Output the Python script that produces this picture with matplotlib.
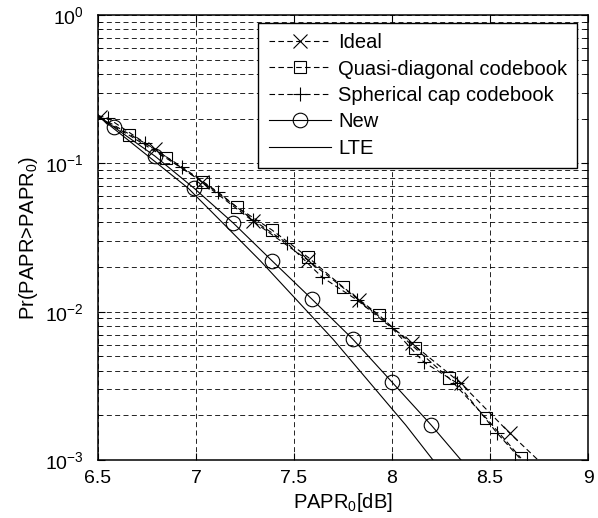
import matplotlib
matplotlib.use('Agg')
import matplotlib.pyplot as plt
import numpy as np
from matplotlib.ticker import LogLocator, FixedLocator, NullFormatter

plt.rcParams['font.family'] = ['Liberation Sans', 'DejaVu Sans']
plt.rcParams['mathtext.fontset'] = 'custom'
plt.rcParams['mathtext.rm'] = 'Liberation Sans'
plt.rcParams['mathtext.it'] = 'Liberation Sans'

# Ideal (x markers, dashed)
ideal_x = [6.51, 6.79, 7.03, 7.29, 7.57, 7.83, 8.10, 8.35, 8.60, 8.745]
ideal_y = [0.205, 0.125, 0.0748, 0.0408, 0.0223, 0.0120, 0.00614, 0.00330, 0.00152, 0.001]
ideal_marks = list(range(9))

# Quasi-diagonal codebook (squares, dashed)
quasi_x = [6.5, 6.658, 6.847, 7.036, 7.209, 7.388, 7.571, 7.750, 7.934, 8.117, 8.291, 8.480, 8.658]
quasi_y = [0.205, 0.155, 0.1086, 0.0748, 0.0507, 0.0355, 0.0233, 0.01466, 0.00948, 0.00569, 0.00356, 0.00192, 0.00103]
quasi_marks = list(range(1, 13))

# Spherical cap codebook (+ markers, dashed)
sph_x = [6.5, 6.55, 6.74, 6.929, 7.112, 7.291, 7.464, 7.643, 7.821, 8.000, 8.163, 8.332, 8.536, 8.66]
sph_y = [0.21, 0.202, 0.137, 0.0944, 0.0640, 0.0415, 0.0290, 0.0171, 0.0120, 0.00775, 0.00457, 0.00330, 0.00152, 0.001]
sph_marks = list(range(1, 13))

# New (circles, solid)
new_x = [6.5, 6.58, 6.79, 6.99, 7.19, 7.39, 7.59, 7.80, 8.00, 8.20, 8.352]
new_y = [0.21, 0.176, 0.112, 0.068, 0.0396, 0.0219, 0.0122, 0.00653, 0.00335, 0.00172, 0.001]
new_marks = list(range(1, 10))

# LTE (solid, no markers)
lte_x = [6.5, 6.57, 6.96, 7.33, 7.70, 8.07, 8.209]
lte_y = [0.21, 0.176, 0.068, 0.0219, 0.0065, 0.00172, 0.001]

fig = plt.figure(figsize=(5.98, 5.18), dpi=100)
ax = fig.add_axes([98 / 598, 1 - 460 / 518, 490 / 598, 445 / 518])

dash = (0, (5, 3))
lw = 0.8
ax.semilogy(ideal_x, ideal_y, color='k', lw=lw, linestyle=dash, marker='x', ms=9.5,
            mew=0.8, markevery=ideal_marks, label='Ideal')
ax.semilogy(quasi_x, quasi_y, color='k', lw=lw, linestyle=dash, marker='s', ms=8.5,
            mew=0.8, mfc='none', markevery=quasi_marks, label='Quasi-diagonal codebook')
ax.semilogy(sph_x, sph_y, color='k', lw=lw, linestyle=dash, marker='+', ms=10,
            mew=0.8, markevery=sph_marks, label='Spherical cap codebook')
ax.semilogy(new_x, new_y, color='k', lw=lw, linestyle='-', marker='o', ms=10.5,
            mew=0.8, mfc='none', markevery=new_marks, label='New')
ax.semilogy(lte_x, lte_y, color='k', lw=lw, linestyle='-', label='LTE')

ax.set_xlim(6.5, 9)
ax.set_ylim(1e-3, 1)
ax.set_xticks([6.5, 7, 7.5, 8, 8.5, 9])
ax.set_xticklabels(['6.5', '7', '7.5', '8', '8.5', '9'])
ax.yaxis.set_major_locator(FixedLocator([1e-3, 1e-2, 1e-1, 1]))
ax.set_yticklabels([r'$10^{-3}$', r'$10^{-2}$', r'$10^{-1}$', r'$10^{0}$'])
ax.yaxis.set_minor_locator(LogLocator(base=10, subs=np.arange(2, 10), numticks=20))
ax.yaxis.set_minor_formatter(NullFormatter())

grid_ls = (0, (6, 4))
ax.grid(True, which='major', axis='x', color='k', linestyle=grid_ls, lw=0.6)
ax.grid(True, which='both', axis='y', color='k', linestyle=grid_ls, lw=0.6)

ax.tick_params(which='both', direction='in', top=True, right=True, labelsize=14)
ax.tick_params(which='major', length=5)
ax.tick_params(which='minor', length=3)
ax.tick_params(axis='x', pad=7)
ax.tick_params(axis='y', pad=10)
for s in ax.spines.values():
    s.set_linewidth(1.1)

ax.set_xlabel(r'PAPR$_0$[dB]', fontsize=14.5, labelpad=3)
ax.set_ylabel(r'Pr(PAPR>PAPR$_0$)', fontsize=14.5, labelpad=4)

leg = ax.legend(loc='upper right', bbox_to_anchor=(0.978, 0.982), borderaxespad=0,
                fontsize=14.5, handlelength=3.1, labelspacing=0.37, borderpad=0.5,
                fancybox=False, framealpha=1, edgecolor='k', handletextpad=0.35)
leg.get_frame().set_linewidth(1.0)

fig.savefig('out.png', dpi=100)
